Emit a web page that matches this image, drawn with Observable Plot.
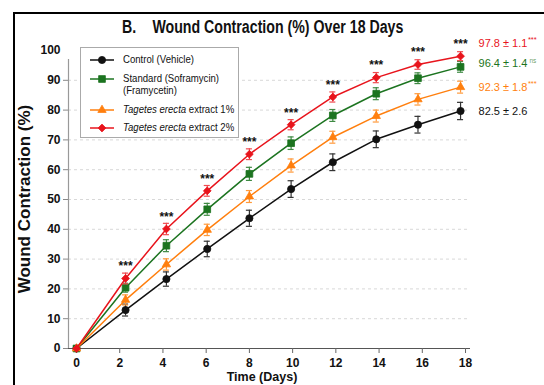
<!DOCTYPE html>
<html><head><meta charset="utf-8">
<script src="https://cdn.jsdelivr.net/npm/d3@7"></script>
<script src="https://cdn.jsdelivr.net/npm/@observablehq/plot@0.6"></script>
<style>
html,body{margin:0;padding:0;background:#fff;overflow:hidden;}
#wrap{position:relative;width:544px;height:385px;overflow:hidden;font-family:"Liberation Sans",Arial,sans-serif;color:#111;}
#frame{position:absolute;left:13px;top:12px;width:700px;height:600px;border-left:2px solid #000;border-top:2px solid #000;z-index:5;pointer-events:none;}
#chart{position:absolute;left:0;top:0;}
#title{position:absolute;left:122px;top:19px;font-size:17.5px;font-weight:bold;line-height:17px;white-space:nowrap;z-index:4;transform:scaleX(0.81);transform-origin:0 0;}
#title span{margin-left:20px;}
#ylab{position:absolute;left:25px;top:199px;transform:translate(-50%,-50%) rotate(-90deg);font-size:17px;font-weight:bold;white-space:nowrap;z-index:4;}
#xlab{position:absolute;left:262px;top:371px;transform:translateX(-50%);font-size:12.5px;font-weight:bold;line-height:13px;white-space:nowrap;z-index:4;}
#legend{position:absolute;left:80px;top:47px;width:157px;height:89px;border:1px solid #aaa;background:#fff;z-index:4;}
.row{position:absolute;left:0;font-size:11.5px;line-height:11.7px;white-space:nowrap;}
.row svg{position:absolute;left:8px;top:0;}
.row .lab{position:absolute;left:42px;top:0;transform:scaleX(0.835);transform-origin:0 0;}
</style></head>
<body><div id="wrap">
<div id="frame"></div>
<div id="chart"></div>
<div id="title">B.<span>Wound Contraction (%) Over 18 Days</span></div>
<div id="ylab">Wound Contraction (%)</div>
<div id="xlab">Time (Days)</div>
<div id="legend"></div>
</div>
<script>
// ---- data ----
const days        = [0, 2.27, 4.16, 6.05, 8, 9.93, 11.86, 13.87, 15.8, 17.77];
const control     = [0, 12.9, 23.3, 33.4, 43.7, 53.5, 62.5, 70.2, 75.1, 79.7];
const controlErr  = [0, 2.0, 2.4, 2.6, 2.7, 2.8, 2.8, 2.8, 2.8, 2.9];
const standard    = [0, 20.4, 34.5, 46.7, 58.6, 68.9, 78.2, 85.5, 90.7, 94.5];
const standardErr = [0, 1.5, 2.0, 2.0, 2.2, 2.1, 2.0, 2.0, 1.8, 1.8];
const ext1        = [0, 16.3, 28.2, 39.8, 51.0, 61.4, 70.9, 78.0, 83.6, 87.7];
const ext1Err     = [0, 1.7, 1.9, 1.9, 2.0, 2.2, 2.0, 2.0, 1.9, 2.0];
const ext2        = [0, 23.5, 40.1, 52.9, 65.2, 75.1, 84.4, 90.9, 95.3, 98.1];
const ext2Err     = [0, 1.8, 1.9, 1.8, 1.8, 1.7, 1.7, 1.7, 1.6, 1.5];
const significance = ["", "***", "***", "***", "***", "***", "***", "***", "***", "***"];
const seriesNames = ["Control (Vehicle)", "Standard (Soframycin)\n(Framycetin)", "Tagetes erecta extract 1%", "Tagetes erecta extract 2%"];
const finalLabels = ["82.5 ± 2.6", "96.4 ± 1.4", "92.3 ± 1.8", "97.8 ± 1.1"];
const finalSup    = ["", "ns", "***", "***"];
const xTicks = [0, 2, 4, 6, 8, 10, 12, 14, 16, 18];
const yTicks = [0, 10, 20, 30, 40, 50, 60, 70, 80, 90, 100];

// ---- styling ----
const colors  = ["#111111", "#1c7420", "#ff7f0e", "#e8141c"];
const errCol  = ["#333333", "#3f8a43", "#ff9a3c", "#ef4a50"];
const symbols = ["circle", "square", "triangle", "diamond2"];
const radii   = [3.6, 3.8, 3.1, 3.5];
const labelDy = [0, -3, 0, -13];
const valuesBy = [control, standard, ext1, ext2];
const errsBy   = [controlErr, standardErr, ext1Err, ext2Err];

const series = valuesBy.map((vals, s) => days.map((day, i) => ({s, day, v: vals[i], e: errsBy[s][i]})));
const xDomain = [-0.37, 18.23];
const capHalf = 0.14;

const marks = [
  Plot.gridY({ticks: yTicks.slice(1, -1), stroke: "#c8c8c8", strokeOpacity: 0.7, strokeDasharray: "3,3"}),
  Plot.ruleY([0], {stroke: "#555", strokeWidth: 1.2}),
  Plot.ruleX([xDomain[0]], {y1: 0, y2: 97, stroke: "#999", strokeWidth: 1.2}),
  Plot.axisX({ticks: xTicks, tickSize: 5, tickPadding: 5, fontSize: 12, fontWeight: "bold", stroke: "#666", fill: "#111", label: null}),
  Plot.axisY({ticks: yTicks.slice(0, -1), tickSize: 5, tickPadding: 3, fontSize: 12, fontWeight: "bold", stroke: "#888", fill: "#111", label: null}),
  Plot.axisY({ticks: yTicks.slice(-1), tickSize: 0, tickPadding: 8, fontSize: 12, fontWeight: "bold", fill: "#111", label: null})
];
series.forEach((rows, s) => {
  const withErr = rows.filter(d => d.e > 0);
  marks.push(
    Plot.line(rows, {x: "day", y: "v", stroke: colors[s], strokeWidth: 1.5}),
    Plot.ruleX(withErr, {x: "day", y1: d => d.v - d.e, y2: d => d.v + d.e, stroke: errCol[s], strokeWidth: 1.2}),
    Plot.ruleY(withErr, {y: d => d.v + d.e, x1: d => d.day - capHalf, x2: d => d.day + capHalf, stroke: errCol[s], strokeWidth: 1.2}),
    Plot.ruleY(withErr, {y: d => d.v - d.e, x1: d => d.day - capHalf, x2: d => d.day + capHalf, stroke: errCol[s], strokeWidth: 1.2}),
    Plot.dot(rows, {x: "day", y: "v", symbol: symbols[s], r: radii[s], fill: colors[s], stroke: colors[s], strokeWidth: 0.8})
  );
});
// significance stars above the 2% extract
const starRows = series[3].map((d, i) => ({...d, sig: significance[i]})).filter(d => d.sig);
marks.push(Plot.text(starRows, {x: "day", y: "v", text: "sig", dy: -12, fontSize: 12, fontWeight: "bold", fill: "#111"}));
// final-day labels
series.forEach((rows, s) => {
  const last = rows[rows.length - 1];
  marks.push(Plot.text([{...last, label: finalLabels[s]}], {x: "day", y: "v", text: "label", textAnchor: "start", dx: 18, dy: labelDy[s], fontSize: 11, fill: colors[s]}));
});

const plot = Plot.plot({
  width: 544, height: 385,
  marginLeft: 68, marginRight: 74, marginTop: 50, marginBottom: 37,
  x: {domain: xDomain},
  y: {domain: [0, 100]},
  style: {background: "transparent", fontFamily: "Liberation Sans, Arial, sans-serif", overflow: "visible"},
  marks
});
document.getElementById("chart").appendChild(plot);

// superscripts on final labels
plot.querySelectorAll("text").forEach(t => {
  const i = finalLabels.indexOf(t.textContent);
  if (i >= 0 && finalSup[i]) {
    const ts = document.createElementNS("http://www.w3.org/2000/svg", "tspan");
    ts.setAttribute("dy", "-4.5");
    ts.setAttribute("dx", finalSup[i] === "ns" ? "2" : "0.5");
    ts.setAttribute("font-size", finalSup[i] === "ns" ? "6.5" : "7.5");
    if (finalSup[i] === "ns") ts.setAttribute("fill-opacity", "0.7");
    ts.textContent = finalSup[i];
    t.appendChild(ts);
  }
});

// legend
const legend = document.getElementById("legend");
const rowTops = [5.5, 25, 56, 73.5];
seriesNames.forEach((name, s) => {
  const row = document.createElement("div");
  row.className = "row";
  row.style.top = rowTops[s] + "px";
  const svg = d3.create("svg").attr("width", 26).attr("height", 12);
  svg.append("line").attr("x1", 1).attr("x2", 25).attr("y1", 6).attr("y2", 6).attr("stroke", colors[s]).attr("stroke-width", 1.5);
  const symMap = {circle: d3.symbolCircle, square: d3.symbolSquare, triangle: d3.symbolTriangle, diamond2: d3.symbolDiamond2};
  svg.append("path").attr("transform", "translate(13,6)")
    .attr("d", d3.symbol(symMap[symbols[s]], Math.PI * radii[s] * radii[s])())
    .attr("fill", colors[s]).attr("stroke", colors[s]).attr("stroke-width", 0.8);
  row.appendChild(svg.node());
  const lab = document.createElement("div");
  lab.className = "lab";
  if (name.startsWith("Tagetes erecta")) {
    lab.innerHTML = "<i>Tagetes erecta</i>" + name.slice("Tagetes erecta".length);
  } else {
    lab.innerHTML = name.split("\n").join("<br>");
  }
  row.appendChild(lab);
  legend.appendChild(row);
});
</script>
</body></html>
